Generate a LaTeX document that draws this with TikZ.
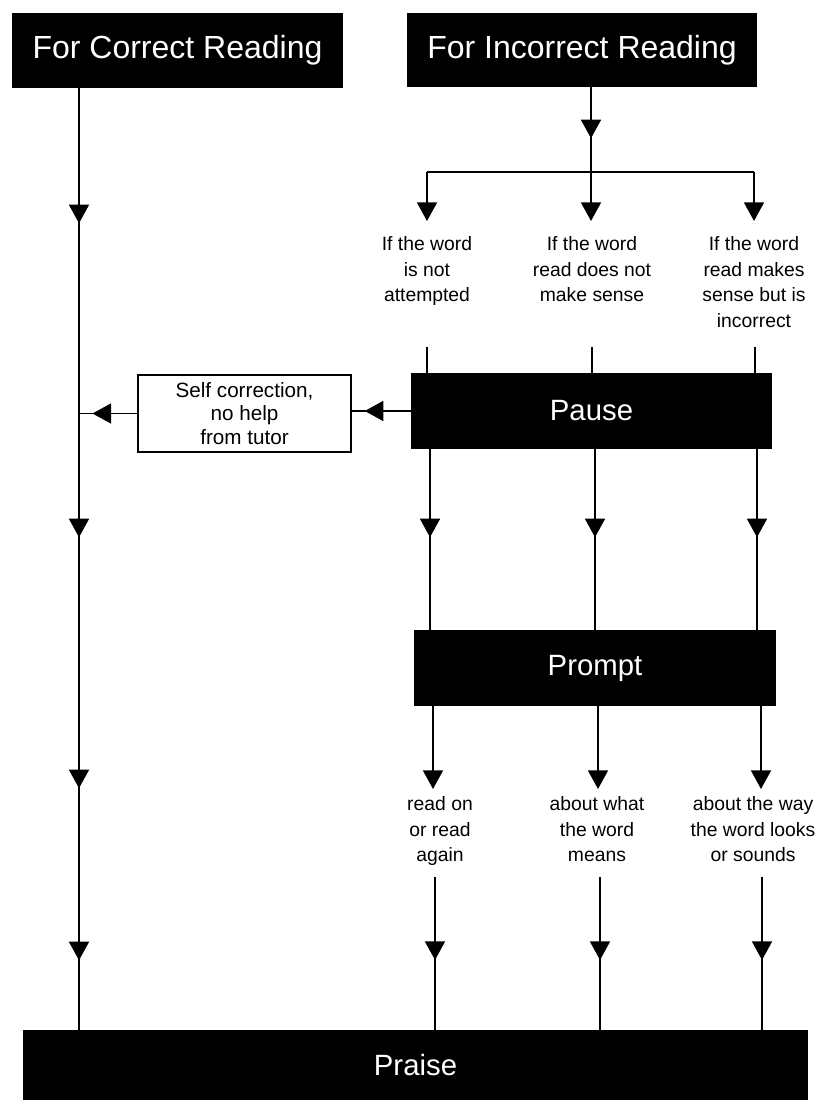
\documentclass[tikz,border=0pt]{standalone}
\usepackage{fontspec}
\setmainfont{Liberation Sans}
\usetikzlibrary{arrows.meta,decorations.markings}
\begin{document}
\begin{tikzpicture}[x=0.75pt,y=-0.75pt,
  >={Triangle[width=15pt,length=14pt]},
  conn/.style={line width=1.4pt},
  arrowat/.style={postaction={decorate,decoration={markings,mark=at position #1 with {\arrow{>}}}}},
  blk/.style={fill=black,text=white,draw=none,inner sep=0pt,font=\fontsize{24}{28}\selectfont},
  mid/.style={blk,font=\fontsize{22}{26}\selectfont},
  lbl/.style={align=center,inner sep=0pt,font=\fontsize{14.5}{19.3}\selectfont},
  selfbox/.style={draw=black,line width=0.8pt,fill=white,align=center,inner sep=0pt,font=\fontsize{15.5}{17.5}\selectfont}
]
\useasboundingbox (0,0) rectangle (824,1100);

% boxes
\node[blk,minimum width=248.25pt,minimum height=56.25pt] (corr) at (177.5,50.5) {For Correct Reading};
\node[blk,minimum width=262.5pt,minimum height=55.5pt] (incorr) at (582,50) {For Incorrect Reading};
\node[mid,minimum width=270.75pt,minimum height=57pt] (pause) at (591.5,411) {Pause};
\node[mid,minimum width=271.5pt,minimum height=57pt] (prompt) at (595,668) {Prompt};
\node[mid,minimum width=588.75pt,minimum height=52.5pt] (praise) at (415.5,1065) {Praise};
\node[selfbox,minimum width=159.75pt,minimum height=57.75pt] (self) at (244.5,413.5) {Self correction,\\no help\\from tutor};

% labels
\node[lbl,anchor=north] (l1) at (427,236) {If the word\\is not\\attempted};
\node[lbl,anchor=north] (l2) at (592,236) {If the word\\read does not\\make sense};
\node[lbl,anchor=north] (l3) at (754,236) {If the word\\read makes\\sense but is\\incorrect};
\node[lbl,anchor=north] (r1) at (440,796) {read on\\or read\\again};
\node[lbl,anchor=north] (r2) at (597,796) {about what\\the word\\means};
\node[lbl,anchor=north] (r3) at (753,796) {about the way\\the word looks\\or sounds};

% helper coordinates
\coordinate (lx) at (79,0);
\coordinate (cx) at (591,0);
\coordinate (b1) at (427,172);
\coordinate (b2) at (591,172);
\coordinate (b3) at (754,172);
\coordinate (a1) at (427,221);
\coordinate (a2) at (591,221);
\coordinate (a3) at (754,221);
\coordinate (u1) at (427,347);
\coordinate (u2) at (592,347);
\coordinate (u3) at (755,347);
\coordinate (m1) at (430,0);
\coordinate (m2) at (595,0);
\coordinate (m3) at (757,0);
\coordinate (p1) at (433,789);
\coordinate (p2) at (598,789);
\coordinate (p3) at (761,789);
\coordinate (q1) at (435,877);
\coordinate (q2) at (600,877);
\coordinate (q3) at (762,877);

% left main line
\draw[conn,arrowat=101.25pt,arrowat=336.75pt,arrowat=525pt,arrowat=654pt]
  (corr.south -| lx) -- (praise.north -| lx);

% incorrect branch
\draw[conn,arrowat=38.25pt] (incorr.south -| cx) -- (b2);
\draw[conn] (b1) -- (b3);
\draw[conn,->] (b1) -- (a1);
\draw[conn,->] (b2) -- (a2);
\draw[conn,->] (b3) -- (a3);

% into pause
\draw[conn] (u1) -- (u1 |- pause.north);
\draw[conn] (u2) -- (u2 |- pause.north);
\draw[conn] (u3) -- (u3 |- pause.north);

% self correction
\draw[conn,arrowat=34.5pt] (pause.west) -- (pause.west -| self.east);
\draw[conn,arrowat=33.75pt] (self.west) -- (self.west -| lx);

% pause to prompt
\draw[conn,arrowat=66pt] (pause.south -| m1) -- (prompt.north -| m1);
\draw[conn,arrowat=66pt] (pause.south -| m2) -- (prompt.north -| m2);
\draw[conn,arrowat=66pt] (pause.south -| m3) -- (prompt.north -| m3);

% prompt to labels
\draw[conn,->] (prompt.south -| p1) -- (p1);
\draw[conn,->] (prompt.south -| p2) -- (p2);
\draw[conn,->] (prompt.south -| p3) -- (p3);

% to praise
\draw[conn,arrowat=62.25pt] (q1) -- (q1 |- praise.north);
\draw[conn,arrowat=62.25pt] (q2) -- (q2 |- praise.north);
\draw[conn,arrowat=62.25pt] (q3) -- (q3 |- praise.north);
\end{tikzpicture}
\end{document}
